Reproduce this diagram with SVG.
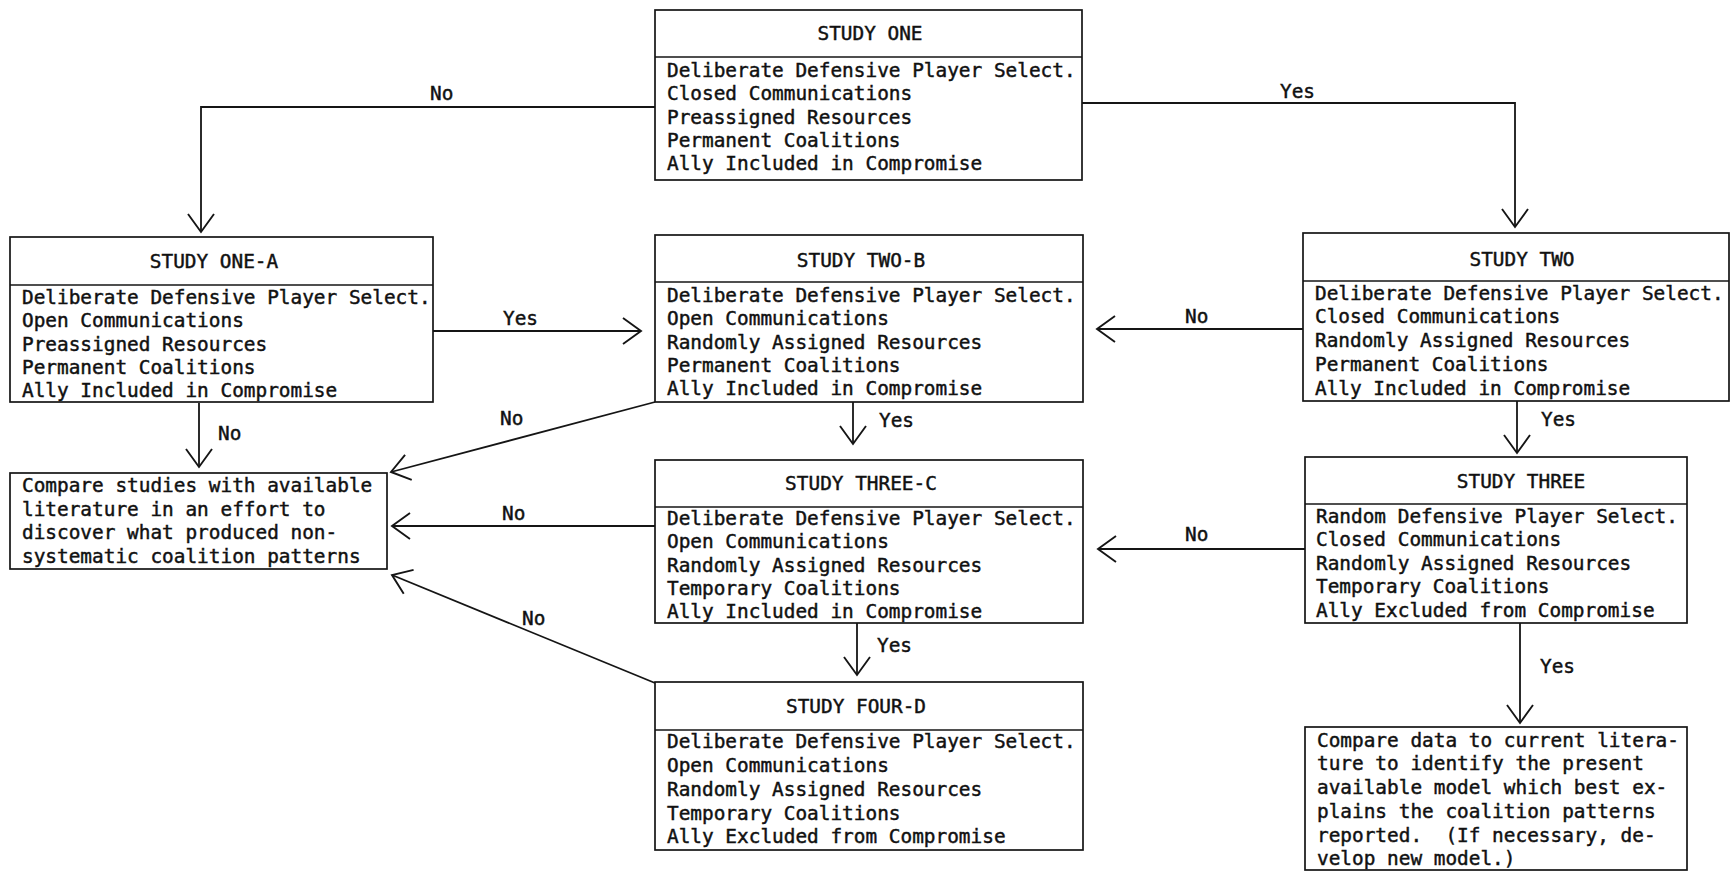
<svg xmlns="http://www.w3.org/2000/svg" width="1732" height="872" viewBox="0 0 1732 872">
<style>
  .box { fill: none; stroke: #151515; stroke-width: 1.7; }
  .div { stroke: #151515; stroke-width: 1.7; }
  text { font-family: "DejaVu Sans Mono", "Liberation Mono", monospace; font-size: 19.4px; fill: #111; stroke: #111; stroke-width: 0.45px; white-space: pre; }
  .title { text-anchor: middle; }
  .conn { fill: none; stroke: #151515; stroke-width: 1.8; marker-end: url(#arr); }
</style>
<defs>
  <marker id="arr" markerUnits="userSpaceOnUse" markerWidth="40" markerHeight="40" viewBox="-20 -20 40 40" refX="0" refY="0" orient="auto" overflow="visible">
    <path d="M-18,-13 L0,0 L-18,13" fill="none" stroke="#151515" stroke-width="1.9"/>
  </marker>
</defs>
<rect width="1732" height="872" fill="#fff"/>

<g id="connectors">
  <polyline class="conn" points="655,107 201,107 201,232"/>
  <polyline class="conn" points="1082,103 1515,103 1515,227"/>
  <line class="conn" x1="433" y1="331" x2="641" y2="331"/>
  <line class="conn" x1="1303" y1="329" x2="1097" y2="329"/>
  <line class="conn" x1="853" y1="402" x2="853" y2="444"/>
  <line class="conn" x1="1517" y1="401" x2="1517" y2="453"/>
  <line class="conn" x1="1305" y1="549" x2="1098" y2="549"/>
  <line class="conn" x1="857" y1="623" x2="857" y2="675"/>
  <line class="conn" x1="1520" y1="623" x2="1520" y2="723"/>
  <line class="conn" x1="199" y1="403" x2="199" y2="467"/>
  <line class="conn" x1="655" y1="402" x2="391" y2="472"/>
  <line class="conn" x1="655" y1="526" x2="392" y2="526"/>
  <line class="conn" x1="655" y1="683" x2="392" y2="575"/>
  <text x="430" y="100">No</text>
  <text x="1280" y="98">Yes</text>
  <text x="503" y="325">Yes</text>
  <text x="1185" y="323">No</text>
  <text x="879" y="427">Yes</text>
  <text x="1541" y="426">Yes</text>
  <text x="1185" y="541">No</text>
  <text x="877" y="652">Yes</text>
  <text x="1540" y="673">Yes</text>
  <text x="218" y="440">No</text>
  <text x="500" y="425">No</text>
  <text x="502" y="520">No</text>
  <text x="522" y="625">No</text>
</g>

<g id="study-one">
  <rect class="box" x="655" y="10" width="427" height="170"/>
  <line class="div" x1="655" y1="57" x2="1082" y2="57"/>
  <text class="title" x="870" y="40">STUDY ONE</text>
  <text x="667" y="77">Deliberate Defensive Player Select.</text>
  <text x="667" y="100.3">Closed Communications</text>
  <text x="667" y="123.6">Preassigned Resources</text>
  <text x="667" y="146.9">Permanent Coalitions</text>
  <text x="667" y="170.2">Ally Included in Compromise</text>
</g>

<g id="study-one-a">
  <rect class="box" x="10" y="237" width="423" height="165"/>
  <line class="div" x1="10" y1="285" x2="433" y2="285"/>
  <text class="title" x="214" y="268">STUDY ONE-A</text>
  <text x="22" y="304">Deliberate Defensive Player Select.</text>
  <text x="22" y="327">Open Communications</text>
  <text x="22" y="350.5">Preassigned Resources</text>
  <text x="22" y="374">Permanent Coalitions</text>
  <text x="22" y="397">Ally Included in Compromise</text>
</g>

<g id="study-two-b">
  <rect class="box" x="655" y="235" width="428" height="167"/>
  <line class="div" x1="655" y1="282" x2="1083" y2="282"/>
  <text class="title" x="861" y="267">STUDY TWO-B</text>
  <text x="667" y="302">Deliberate Defensive Player Select.</text>
  <text x="667" y="325">Open Communications</text>
  <text x="667" y="348.5">Randomly Assigned Resources</text>
  <text x="667" y="372">Permanent Coalitions</text>
  <text x="667" y="395">Ally Included in Compromise</text>
</g>

<g id="study-two">
  <rect class="box" x="1303" y="233" width="426" height="168"/>
  <line class="div" x1="1303" y1="281" x2="1729" y2="281"/>
  <text class="title" x="1522" y="266">STUDY TWO</text>
  <text x="1315" y="300">Deliberate Defensive Player Select.</text>
  <text x="1315" y="323">Closed Communications</text>
  <text x="1315" y="347">Randomly Assigned Resources</text>
  <text x="1315" y="371">Permanent Coalitions</text>
  <text x="1315" y="395">Ally Included in Compromise</text>
</g>

<g id="compare-studies">
  <rect class="box" x="10" y="473" width="377" height="96"/>
  <text x="22" y="492">Compare studies with available</text>
  <text x="22" y="515.5">literature in an effort to</text>
  <text x="22" y="539">discover what produced non-</text>
  <text x="22" y="563">systematic coalition patterns</text>
</g>

<g id="study-three-c">
  <rect class="box" x="655" y="460" width="428" height="163"/>
  <line class="div" x1="655" y1="507" x2="1083" y2="507"/>
  <text class="title" x="861" y="490">STUDY THREE-C</text>
  <text x="667" y="525">Deliberate Defensive Player Select.</text>
  <text x="667" y="548">Open Communications</text>
  <text x="667" y="572">Randomly Assigned Resources</text>
  <text x="667" y="595">Temporary Coalitions</text>
  <text x="667" y="618">Ally Included in Compromise</text>
</g>

<g id="study-three">
  <rect class="box" x="1305" y="457" width="382" height="166"/>
  <line class="div" x1="1305" y1="504" x2="1687" y2="504"/>
  <text class="title" x="1521" y="488">STUDY THREE</text>
  <text x="1316" y="523">Random Defensive Player Select.</text>
  <text x="1316" y="546">Closed Communications</text>
  <text x="1316" y="570">Randomly Assigned Resources</text>
  <text x="1316" y="593">Temporary Coalitions</text>
  <text x="1316" y="617">Ally Excluded from Compromise</text>
</g>

<g id="study-four-d">
  <rect class="box" x="655" y="682" width="428" height="168"/>
  <line class="div" x1="655" y1="730" x2="1083" y2="730"/>
  <text class="title" x="856" y="713">STUDY FOUR-D</text>
  <text x="667" y="748">Deliberate Defensive Player Select.</text>
  <text x="667" y="772">Open Communications</text>
  <text x="667" y="796">Randomly Assigned Resources</text>
  <text x="667" y="820">Temporary Coalitions</text>
  <text x="667" y="843">Ally Excluded from Compromise</text>
</g>

<g id="compare-data">
  <rect class="box" x="1305" y="727" width="382" height="143"/>
  <text x="1317" y="747">Compare data to current litera-</text>
  <text x="1317" y="770">ture to identify the present</text>
  <text x="1317" y="794">available model which best ex-</text>
  <text x="1317" y="818">plains the coalition patterns</text>
  <text x="1317" y="842" xml:space="preserve">reported.  (If necessary, de-</text>
  <text x="1317" y="865">velop new model.)</text>
</g>
</svg>
